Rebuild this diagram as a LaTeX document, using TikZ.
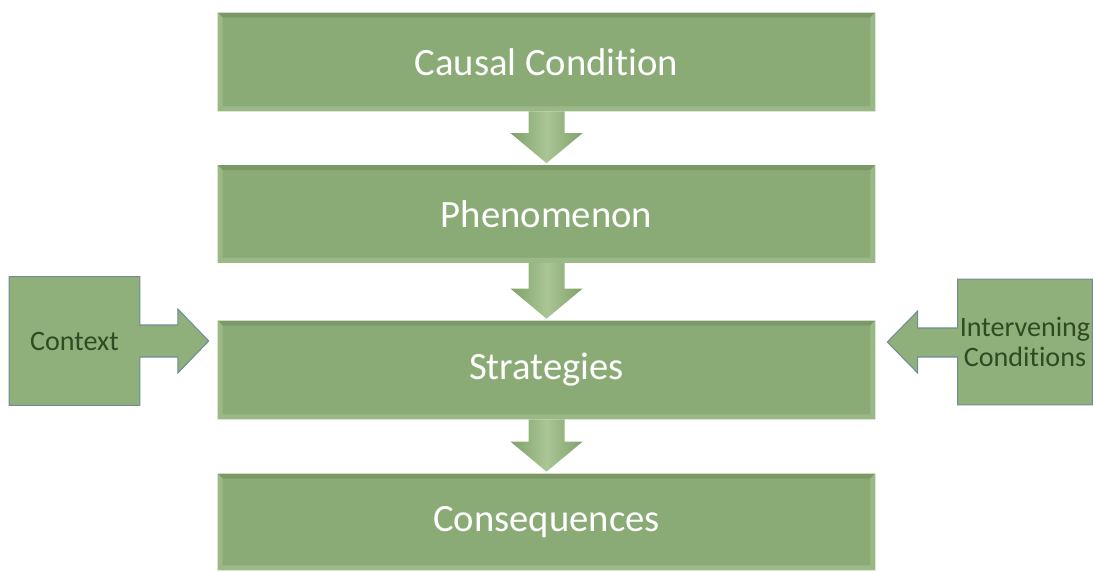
\documentclass[tikz,border=0pt]{standalone}
\usepackage{fontspec}
\setmainfont{Carlito}[Ligatures={NoCommon,NoRare}, Contextuals=NoAlternate]
\usetikzlibrary{calc}
\usetikzlibrary{backgrounds}

\definecolor{boxgreen}{HTML}{8AAB76}
\definecolor{bevdark}{HTML}{7B9967}
\definecolor{bevlight}{HTML}{9BB987}
\definecolor{arrowedge}{HTML}{80A16B}
\definecolor{arrowmid}{HTML}{A9C694}
\definecolor{sidegreen}{HTML}{8FAF7B}
\definecolor{sideline}{HTML}{6F8C98}
\definecolor{sidetext}{HTML}{2F4B22}

% bordo smussato dei riquadri principali
\newcommand{\bevel}[1]{%
  \fill[bevdark] (#1.north west) -- (#1.north east) -- ($(#1.north east)+(-5,5)$) -- ($(#1.north west)+(5,5)$) -- cycle;
  \fill[bevlight] (#1.north west) -- ($(#1.north west)+(5,5)$) -- ($(#1.south west)+(5,-5)$) -- (#1.south west) -- cycle;
  \fill[bevlight] (#1.south west) -- ($(#1.south west)+(5,-5)$) -- ($(#1.south east)+(-5,-5)$) -- (#1.south east) -- cycle;
  \fill[bevlight] (#1.north east) -- (#1.south east) -- ($(#1.south east)+(-5,-5)$) -- ($(#1.north east)+(-5,5)$) -- cycle;
}

% freccia larga verso il basso
\newcommand{\blockarrow}[2]{%
  \shade[left color=arrowedge, right color=arrowedge, middle color=arrowmid]
    ($(#1.south)+(-18,0)$) -- ($(#1.south)+(18,0)$) -- ($(#2.north)+(18,-32)$)
    -- ($(#2.north)+(36,-32)$) -- ($(#2.north)+(0,-2)$) -- ($(#2.north)+(-36,-32)$)
    -- ($(#2.north)+(-18,-32)$) -- cycle;
}

\begin{document}
\begin{tikzpicture}[x=0.02cm, y=-0.02cm,
  mainbox/.style={fill=boxgreen, minimum width=13.14cm, minimum height=1.96cm,
    inner sep=0pt, text=white, font=\fontsize{22}{26}\selectfont},
  sidebox/.style={inner sep=0pt, text=sidetext, align=center,
    font=\fontsize{16}{17}\selectfont},
  sidearrow/.style={fill=sidegreen, draw=sideline, line width=0.6pt}]
  \useasboundingbox (0,0) rectangle (1094,571);

  % Riquadri principali
  \node[mainbox] (cause) at (546.5,62) {Causal Condition};
  \node[mainbox, minimum height=1.94cm] (phen) at (546.5,214) {Phenomenon};
  \node[mainbox] (strat) at (546.5,370) {Strategies};
  \node[mainbox, minimum height=1.92cm] (cons) at (546.5,522) {Consequences};
  \bevel{cause}
  \bevel{phen}
  \bevel{strat}
  \bevel{cons}

  % Frecce tra i riquadri
  \blockarrow{cause}{phen}
  \blockarrow{phen}{strat}
  \blockarrow{strat}{cons}

  % Contesto (a sinistra)
  \node[sidebox, minimum width=2.6cm, minimum height=2.56cm] (ctx) at (74.5,341) {Context};
  \begin{scope}[on background layer]
    \filldraw[sidearrow] (ctx.north west) -- (ctx.north east) -- ($(ctx.east)+(0,-16)$)
      -- ($(ctx.east)+(38,-16)$) -- ($(ctx.east)+(38,-32)$)
      -- ($(strat.west |- ctx.east)+(-9,0)$)
      -- ($(ctx.east)+(38,32)$) -- ($(ctx.east)+(38,16)$) -- ($(ctx.east)+(0,16)$)
      -- (ctx.south east) -- (ctx.south west) -- cycle;
  \end{scope}

  % Condizioni intervenienti (a destra)
  \node[sidebox, minimum width=2.68cm, minimum height=2.5cm] (ivc) at (1025,342) {Intervening\\Conditions};
  \begin{scope}[on background layer]
    \filldraw[sidearrow] (ivc.north east) -- (ivc.north west) -- ($(ivc.west)+(0,-14)$)
      -- ($(ivc.west)+(-40,-14)$) -- ($(ivc.west)+(-40,-31)$)
      -- ($(strat.east |- ivc.west)+(12,0)$)
      -- ($(ivc.west)+(-40,31)$) -- ($(ivc.west)+(-40,15)$) -- ($(ivc.west)+(0,15)$)
      -- (ivc.south west) -- (ivc.south east) -- cycle;
  \end{scope}
\end{tikzpicture}
\end{document}
